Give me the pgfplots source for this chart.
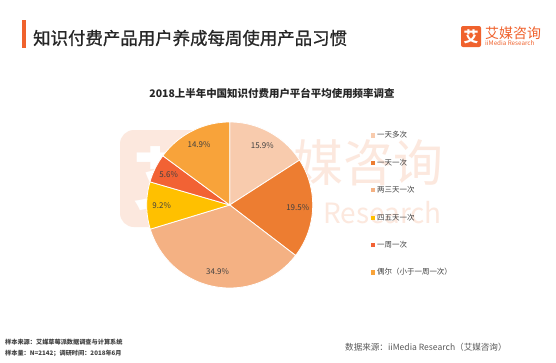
\documentclass[border=0pt]{standalone}
\usepackage{pgfplots}
\usepackage{pgfplotstable}
\pgfplotsset{compat=1.18}
\usepackage{fontspec}
\setmainfont{Noto Sans CJK SC}
\newfontfamily\tfont[FakeBold=0.8]{Noto Sans CJK SC}
\definecolor{cA}{HTML}{F8CBAD}
\definecolor{cB}{HTML}{ED7D31}
\definecolor{cC}{HTML}{F4B183}
\definecolor{cD}{HTML}{FFC000}
\definecolor{cE}{HTML}{F26234}
\definecolor{cF}{HTML}{F8A33A}
\definecolor{wm}{HTML}{FCE8DE}
\definecolor{logo}{HTML}{F0622D}
\definecolor{lbl}{HTML}{404040}
\definecolor{ttl}{HTML}{262626}
\pgfplotstableread{
value color
15.9 cA
19.5 cB
34.9 cC
9.2 cD
5.6 cE
14.9 cF
}\piedata
\begin{document}
\begin{tikzpicture}[x=1bp,y=1bp]
\path[fill=white] (0,0) rectangle (556,362);
% watermark
\fill[wm, rounded corners=14bp] (120,135) rectangle (215,232);
\node[white, font=\fontsize{68}{68}\selectfont\bfseries] at (167.5,183.5) {艾};
\node[wm, font=\fontsize{50}{50}\selectfont, anchor=west] at (290,199) {媒咨询};
\node[wm, font=\fontsize{28}{28}\selectfont, anchor=west] at (320,149) {Research};
% header
\fill[logo] (22,314) rectangle (26,342);
\node[anchor=west, text=ttl, font=\tfont\fontsize{17.5}{18}\selectfont, inner sep=0pt] at (33,324) {知识付费产品用户养成每周使用产品习惯};
\fill[logo, rounded corners=2bp] (461,315) rectangle (481,336);
\node[white, font=\fontsize{15}{15}\selectfont\bfseries] at (471,325.5) {艾};
\node[anchor=west, text=logo, font=\fontsize{14}{14}\selectfont, inner sep=0pt] at (485,329) {艾媒咨询};
\node[anchor=west, text=logo, font=\fontsize{6.3}{7}\selectfont, inner sep=0pt] at (485,319) {iiMedia Research};
% chart title
\node[text=ttl, font=\fontsize{10.5}{11}\selectfont\bfseries] at (272,269) {2018上半年中国知识付费用户平台平均使用频率调查};
% footers
\node[anchor=west, text=lbl, font=\fontsize{6.2}{7}\selectfont\bfseries, inner sep=0pt] at (5,20) {样本来源：艾媒草莓派数据调查与计算系统};
\node[anchor=west, text=lbl, font=\fontsize{6.2}{7}\selectfont\bfseries, inner sep=0pt] at (5,9) {样本量：N=2142；调研时间：2018年6月};
\node[anchor=west, text=black!65, font=\fontsize{8.6}{9}\selectfont, inner sep=0pt] at (345,15) {数据来源：iiMedia Research（艾媒咨询）};
\begin{axis}[at={(229.7bp,157bp)}, anchor=center, x=83bp, y=83bp,
  xmin=-1.1, xmax=1.1, ymin=-1.1, ymax=1.1, hide axis, clip=false,
  legend cell align=left,
  legend image code/.code={\fill[#1,draw=none] (0bp,-2.1bp) rectangle (4.2bp,2.1bp);},
  legend style={at={(axis cs:1.70,0.91)}, anchor=north west, draw=none, fill=none,
    font=\fontsize{7.5}{9}\selectfont, text=lbl, row sep=15.6bp, inner sep=0pt},
  legend entries={一天多次,一天一次,两三天一次,四五天一次,一周一次,偶尔（小于一周一次）},
]
\gdef\cum{0}
\foreach \i in {0,...,5}{
  \pgfplotstablegetelem{\i}{value}\of\piedata \let\v\pgfplotsretval
  \pgfplotstablegetelem{\i}{color}\of\piedata \let\c\pgfplotsretval
  \pgfmathsetmacro\a{90-3.6*\cum}
  \pgfmathsetmacro\b{90-3.6*(\cum+\v)}
  \pgfmathsetmacro\m{(\a+\b)/2}
  \pgfmathsetmacro\lx{0.82*cos(\m)}
  \pgfmathsetmacro\ly{0.82*sin(\m)}
  \edef\temp{\noexpand\addplot[fill=\c, draw=white, line width=0.8pt, domain=\b:\a, samples=90, variable=\noexpand\t] ({cos(\noexpand\t)},{sin(\noexpand\t)}) -- (axis cs:0,0) -- cycle;
  \noexpand\node[font=\noexpand\fontsize{8}{9}\noexpand\selectfont, text=lbl] at (axis cs:\lx,\ly) {\v\noexpand\%};}
  \temp
  \pgfmathsetmacro\cumn{\cum+\v}
  \global\let\cum\cumn
}
\end{axis}
\end{tikzpicture}
\end{document}
